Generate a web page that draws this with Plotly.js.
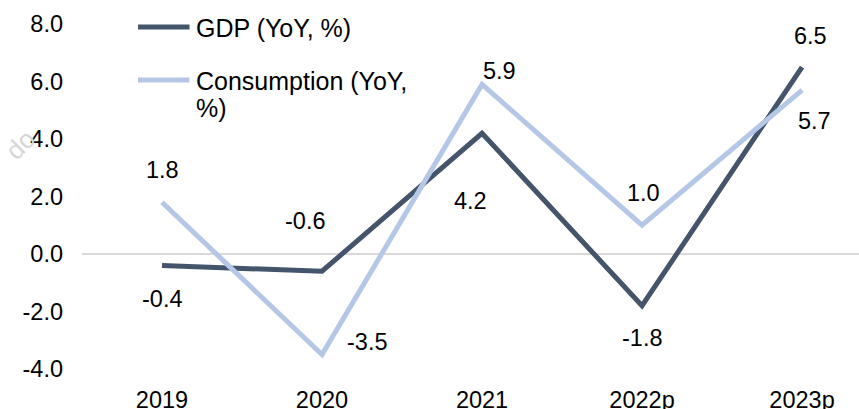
<!DOCTYPE html>
<html>
<head>
<meta charset="utf-8">
<script src="https://cdn.plot.ly/plotly-3.0.1.min.js"></script>
<style>
html,body{margin:0;padding:0;background:#fff;}
#chart{width:859px;height:409px;}
</style>
</head>
<body>
<div id="chart"></div>
<script>
// ---- data ----
var categories = ["2019", "2020", "2021", "2022p", "2023p"];
var gdpValues = [-0.4, -0.6, 4.2, -1.8, 6.5];
var consumptionValues = [1.8, -3.5, 5.9, 1.0, 5.7];
var seriesNames = ["GDP (YoY, %)", "Consumption (YoY, %)"];
var legendLines = [["GDP (YoY, %)"], ["Consumption (YoY,", "%)"]];
var yTickValues = [-4, -2, 0, 2, 4, 6, 8];
var yTickText = ["-4.0", "-2.0", "0.0", "2.0", "4.0", "6.0", "8.0"];

// ---- label offsets (style only, pixels) ----
var gdpLabelDx = [0, -17, -12, 0, 8];
var gdpLabelDy = [-33, 50, -68, -32, 31];
var consLabelDx = [0, 45, 17, 1, 12];
var consLabelDy = [32, 13, 13, 32, -31];

var FONT = "Liberation Sans, Arial, sans-serif";
var FS = 23.5;
var LFS = 25;
var colors = ["#44546A", "#B4C7E7"];

// plot area in pixels (for legend placement)
var ML = 82, MT = 24, MB = 40, W = 859, H = 409;
var PW = W - ML, PH = H - MT - MB;
function px(x) { return (x - ML) / PW; }
function py(y) { return (H - MB - y) / PH; }

var traces = [
  {
    type: "scatter", mode: "lines", name: seriesNames[0],
    x: categories, y: gdpValues,
    line: {color: colors[0], width: 5}, showlegend: false
  },
  {
    type: "scatter", mode: "lines", name: seriesNames[1],
    x: categories, y: consumptionValues,
    line: {color: colors[1], width: 5}, showlegend: false
  }
];

var annotations = [];
var shapes = [];
function addLabels(vals, dx, dy) {
  for (var i = 0; i < vals.length; i++) {
    annotations.push({
      x: i, y: vals[i], xref: "x", yref: "y",
      text: vals[i].toFixed(1), showarrow: false,
      xanchor: "center", yanchor: "middle",
      xshift: dx[i], yshift: dy[i],
      font: {family: FONT, size: FS, color: "#000000"}
    });
  }
}
addLabels(gdpValues, gdpLabelDx, gdpLabelDy);
addLabels(consumptionValues, consLabelDx, consLabelDy);

// legend (drawn manually to match spacing)
var legendRowY = [27, 80];
var legendLineGap = 27;
for (var s = 0; s < legendLines.length; s++) {
  shapes.push({
    type: "line", xref: "paper", yref: "paper",
    x0: px(138), x1: px(189.5), y0: py(legendRowY[s]), y1: py(legendRowY[s]),
    line: {color: colors[s], width: 5}
  });
  for (var k = 0; k < legendLines[s].length; k++) {
    annotations.push({
      xref: "paper", yref: "paper",
      x: px(194), y: py(legendRowY[s] + 1 + k * legendLineGap),
      text: legendLines[s][k], showarrow: false,
      xanchor: "left", yanchor: "middle",
      font: {family: FONT, size: LFS, color: "#000000"}
    });
  }
}

// faint watermark fragment at left edge
annotations.push({
  xref: "paper", yref: "paper", x: px(20), y: py(145),
  text: "do", showarrow: false, textangle: -45,
  font: {family: FONT, size: 26, color: "#D6D6D6"},
  xanchor: "center", yanchor: "middle"
});

var layout = {
  width: W, height: H,
  margin: {l: ML, r: 0, t: MT, b: MB, pad: 0},
  paper_bgcolor: "#ffffff", plot_bgcolor: "#ffffff",
  font: {family: FONT, size: FS, color: "#000000"},
  showlegend: false,
  xaxis: {
    type: "category", range: [-0.5, 4.356],
    showgrid: false, zeroline: false, showline: false,
    ticks: "", ticklabelstandoff: 14,
    tickfont: {family: FONT, size: FS, color: "#000000"},
    fixedrange: true
  },
  yaxis: {
    range: [-4, 8], tickvals: yTickValues, ticktext: yTickText,
    showgrid: false, zeroline: true, zerolinecolor: "#D9D9D9", zerolinewidth: 1.5,
    showline: false, ticks: "", ticklabelstandoff: 18,
    tickfont: {family: FONT, size: FS, color: "#000000"},
    fixedrange: true
  },
  shapes: shapes,
  annotations: annotations
};

Plotly.newPlot("chart", traces, layout, {displayModeBar: false, staticPlot: true});
</script>
</body>
</html>
